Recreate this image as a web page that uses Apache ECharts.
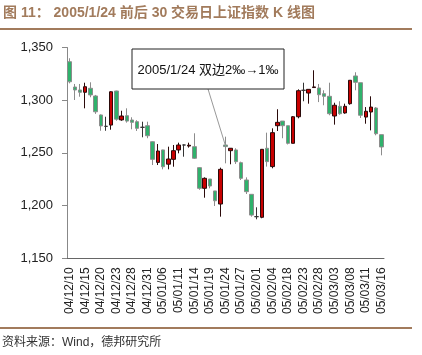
<!DOCTYPE html>
<html>
<head>
<meta charset="utf-8">
<script src="https://cdn.jsdelivr.net/npm/echarts@6/dist/echarts.min.js"></script>
<style>html,body{margin:0;padding:0;background:#fff}#c{width:422px;height:355px}</style>
</head>
<body>
<div id="c"></div>
<script>
const dates = ['04/12/10','04/12/13','04/12/14','04/12/15','04/12/16','04/12/17','04/12/20','04/12/21','04/12/22','04/12/23',
'04/12/24','04/12/27','04/12/28','04/12/29','04/12/30','04/12/31','05/01/04','05/01/05','05/01/06','05/01/07',
'05/01/10','05/01/11','05/01/12','05/01/13','05/01/14','05/01/17','05/01/18','05/01/19','05/01/20','05/01/21',
'05/01/24','05/01/25','05/01/26','05/01/27','05/01/28','05/01/31','05/02/01','05/02/02','05/02/03','05/02/04',
'05/02/16','05/02/17','05/02/18','05/02/21','05/02/22','05/02/23','05/02/24','05/02/25','05/02/28','05/03/01',
'05/03/02','05/03/03','05/03/04','05/03/07','05/03/08','05/03/09','05/03/10','05/03/11','05/03/14','05/03/15','05/03/16'];
const openV = [1336.5,1312.5,1309.7,1307.5,1311.3,1304,1286,1275.2,1276.4,1308.7,
1281.3,1285.3,1281.2,1279.6,1274.3,1275.8,1260.6,1241,1252.8,1239.3,
1243.9,1252.8,1257.5,1256.5,1255.9,1236,1216.4,1225.2,1213.9,1201.5,
1257.5,1252.1,1252.8,1240.7,1224.3,1210.7,1189.5,1188.9,1254.4,1237,
1275.8,1280.2,1275.8,1259.1,1284.3,1309.4,1306.8,1312,1311.6,1306.2,
1303.7,1285,1294.2,1287.9,1296.7,1323,1316.6,1284,1288.8,1292.6,1267.3];
const closeV = [1317.5,1309.7,1307.5,1312.8,1305,1289,1275.6,1275.2,1308,1282,
1285,1280.2,1279,1273.3,1274.3,1266.3,1243.9,1251.8,1236.9,1244.2,
1252.1,1257.5,1257.5,1257.3,1244.9,1216.4,1225.9,1218.6,1204.6,1234.4,
1256,1254.4,1241.7,1225.9,1213.2,1191,1189.5,1253.4,1241.7,1269.2,
1279,1275.8,1259.1,1284.3,1309,1309.4,1310.3,1312.6,1305.2,1303.7,
1287.2,1295.2,1287.2,1294.2,1318.9,1317,1285.7,1289.5,1293.5,1268.2,1255.6];
const lowV = [1316,1300.2,1303.3,1292.3,1302.8,1287,1271,1271,1272,1280.5,
1280.5,1278.7,1272.4,1270.8,1264.8,1263.9,1238.5,1238.5,1234.4,1234.4,
1236.9,1249.6,1246.4,1255,1244.2,1215,1207.5,1216.4,1199.6,1189.5,
1240.1,1239.2,1239.5,1224.3,1211,1189.5,1187,1188,1237,1235.4,
1270.8,1263.9,1258,1259,1282.8,1299,1296.7,1311.8,1298.2,1295.2,
1285.7,1276.8,1286.2,1287.2,1295.7,1309.4,1283.1,1277.7,1271.4,1266.7,1247.7];
const highV = [1339.8,1315.4,1315.4,1316.6,1317,1305,1286.5,1284.3,1308.5,1309,
1290,1292.3,1283.8,1281,1279.6,1279.6,1261,1258.4,1253,1255.9,
1257.5,1259.7,1258,1259.7,1268.6,1236.5,1226.8,1225.2,1213.9,1236,
1265.4,1254.6,1254.4,1241.7,1226.8,1210.7,1198.4,1253.6,1269.2,1273.3,
1291.4,1280.2,1275.8,1285,1310.3,1316.6,1310.3,1328.4,1315.4,1309.4,
1316.6,1297.6,1299,1296.7,1318.9,1326.5,1316.6,1293.5,1303.7,1293.5,1267.3];
const yTicks = [1150, 1200, 1250, 1300, 1350];
const markIndex = 30;
const noteText = '2005/1/24 双边2‰→1‰';

const kData = dates.map((d, i) => [openV[i], closeV[i], lowV[i], highV[i]]);
const brown = '#a27b5c';
const chart = echarts.init(document.getElementById('c'), null, {renderer: 'canvas'});
const option = {
  animation: false,
  backgroundColor: '#fff',
  grid: {left: 67, right: 38, top: 47.5, bottom: 96.7, containLabel: false},
  xAxis: {
    type: 'category', data: dates, boundaryGap: true,
    axisLine: {lineStyle: {color: '#666', width: 1}},
    axisTick: {interval: 4, length: 5, lineStyle: {color: '#666'}},
    axisLabel: {interval: 2, rotate: 90, margin: 9, fontSize: 12, color: '#222', fontFamily: 'Liberation Sans, Arial, sans-serif'}
  },
  yAxis: {
    type: 'value', min: yTicks[0], max: yTicks[yTicks.length - 1], interval: 50,
    axisLine: {show: true, lineStyle: {color: '#888', width: 1}},
    axisTick: {show: true, length: 5, lineStyle: {color: '#888'}},
    splitLine: {show: false},
    axisLabel: {margin: 14, fontSize: 13, color: '#222', fontFamily: 'Liberation Sans, Arial, sans-serif',
      formatter: v => v.toLocaleString('en-US')}
  },
  series: [{
    type: 'candlestick', data: kData, barWidth: 4,
    itemStyle: {color: '#c80000', color0: '#2fb26c', borderColor: '#2a0a0a', borderColor0: '#8c8c8c', borderColorDoji: '#333', borderWidth: 1}
  }],
  graphic: [
    {type: 'text', left: 3, top: 6, style: {text: '图 11： 2005/1/24 前后 30 交易日上证指数 K 线图', fill: brown, font: 'bold 14px "Liberation Sans", "Noto Sans CJK SC", sans-serif'}},
    {type: 'rect', shape: {x: 0, y: 28, width: 412, height: 2}, style: {fill: brown}},
    {type: 'rect', shape: {x: 0, y: 327, width: 412, height: 2}, style: {fill: brown}},
    {type: 'text', left: 2, top: 337, style: {text: '资料来源：Wind，德邦研究所', fill: '#333', font: '12px "Liberation Sans", "Noto Sans CJK SC", sans-serif'}}
  ]
};
chart.setOption(option);
const p = chart.convertToPixel({gridIndex: 0}, [markIndex, (openV[markIndex] + closeV[markIndex]) / 2]);
chart.setOption({graphic: option.graphic.concat([
  {type: 'line', shape: {x1: 208, y1: 89, x2: p[0], y2: p[1]}, style: {stroke: '#999', lineWidth: 1}, z: 10},
  {type: 'rect', shape: {x: 132, y: 49, width: 152, height: 40}, style: {fill: '#fff', stroke: '#222', lineWidth: 1}, z: 11},
  {type: 'text', x: 208, y: 70, style: {text: noteText, fill: '#111', align: 'center', verticalAlign: 'middle', font: '13px "Liberation Sans", "Noto Sans CJK SC", sans-serif'}, z: 12}
])});
</script>
</body>
</html>
